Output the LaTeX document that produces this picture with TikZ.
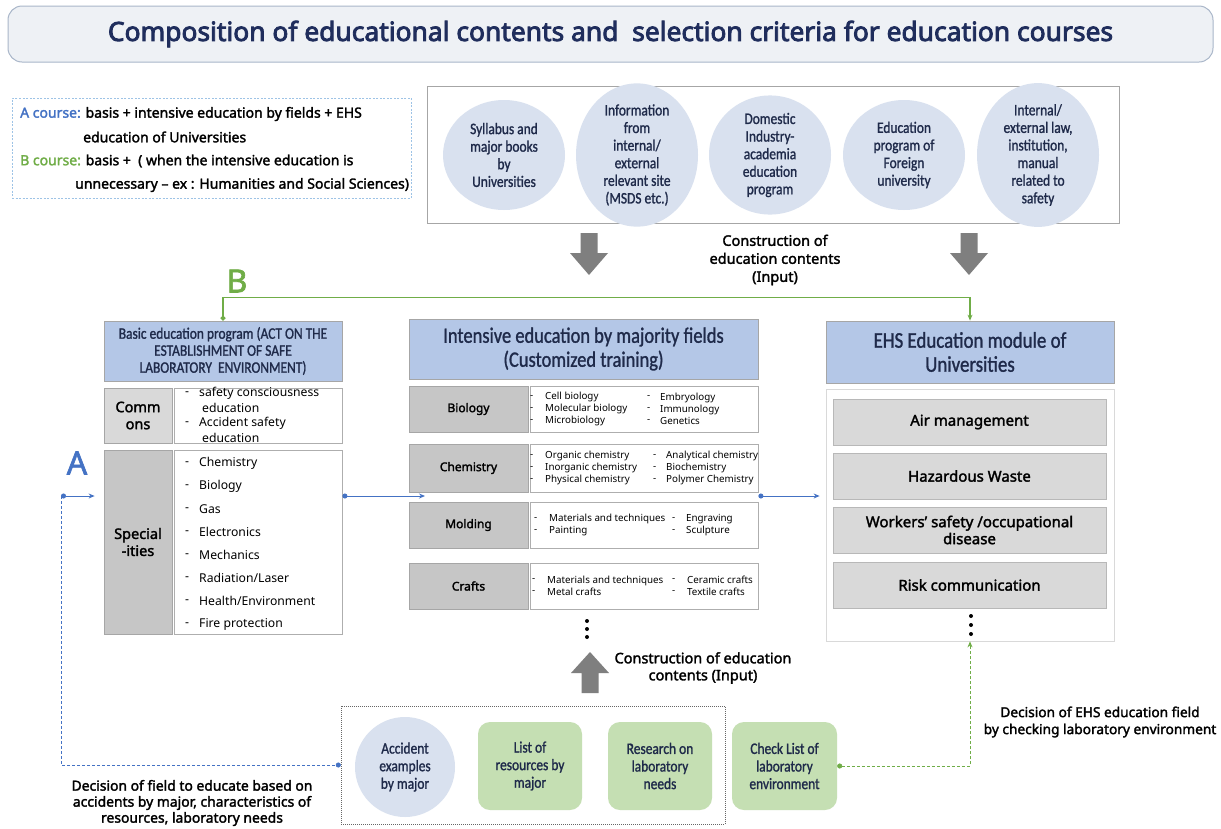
\documentclass[tikz,border=0pt]{standalone}
\usepackage{fontspec}
\setmainfont{Noto Sans}[BoldFont={Noto Sans},BoldFeatures={FakeBold=2}]
\newfontfamily\condfont{Carlito}[FakeStretch=0.84,FakeBold=1.2]
\newfontfamily\titfont{Noto Sans}[FakeBold=3.2]
\usetikzlibrary{shapes.geometric,arrows.meta}

% Colores
\definecolor{titnavy}{HTML}{1F2D5C}
\definecolor{txtnavy}{HTML}{1F2A4A}
\definecolor{titfill}{HTML}{EEF1F5}
\definecolor{titline}{HTML}{A9B6C9}
\definecolor{legline}{HTML}{9DC3E6}
\definecolor{hdrblue}{HTML}{B4C7E7}
\definecolor{circblue}{HTML}{D9E1EF}
\definecolor{ltgray}{HTML}{D9D9D9}
\definecolor{mdgray}{HTML}{C6C6C6}
\definecolor{lngray}{HTML}{A6A6A6}
\definecolor{boxgreen}{HTML}{C5DFB3}
\definecolor{acol}{HTML}{4472C4}
\definecolor{bcol}{HTML}{70AD47}
\definecolor{arrgray}{HTML}{7F7F7F}

\newcommand{\fsel}[2]{\fontsize{#1}{#2}\selectfont}

\begin{document}
\begin{tikzpicture}[x=1pt,y=-1pt,
    box/.style={draw=lngray, line width=0.8pt, inner sep=0pt},
    hdr/.style={box, fill=hdrblue, text=txtnavy, align=center},
    circ/.style={ellipse, fill=circblue, inner sep=0pt, minimum width=122pt, minimum height=110pt,
        text=txtnavy, align=center, font=\condfont\fsel{16}{17.6}},
    grn/.style={rounded corners=12pt, fill=boxgreen, inner sep=0pt, minimum width=104pt, minimum height=88pt,
        text=txtnavy, align=center, font=\condfont\fsel{16}{17.6}},
    lab/.style={box, align=center, font=\bfseries\fsel{12}{15}},
    itm/.style={anchor=west, inner sep=0pt, font=\fsel{12.2}{15}},
    mitm/.style={anchor=west, inner sep=0pt, align=left, font=\fsel{9.8}{12}},
    txt/.style={inner sep=0pt, align=center, font=\bfseries\fsel{14}{16.5}},
    dtip/.style={{Circle[length=5pt]}-{Stealth[length=6pt,width=5pt]}}]

    \useasboundingbox (0,0) rectangle (1221,828);
    \fill[white] (0,0) rectangle (1221,828);

    % Titulo
    \node[draw=titline, line width=1pt, fill=titfill, rounded corners=14pt, minimum width=1205pt,
        minimum height=56pt, text=titnavy, font=\titfont\fsel{26.4}{30}] (title) at (610.5,34)
        {Composition of educational contents and\ \ selection criteria for education courses};

    % Leyenda de cursos
    \node[draw=legline, dash pattern=on 2pt off 1.5pt, minimum width=399pt, minimum height=100pt] (leg) at (211.5,148) {};
    \node[itm, font=\bfseries\fsel{14}{16}] (legA) at (20,114) {\textcolor{acol}{A course:} basis + intensive education by fields + EHS};
    \node[itm, font=\bfseries\fsel{14}{16}] (legA2) at (83,137) {education of Universities};
    \node[itm, font=\bfseries\fsel{14}{16}] (legB) at (20,161) {\textcolor{bcol}{B course:} basis +\ \ ( when the intensive education is};
    \node[itm, font=\bfseries\fsel{14}{16}] (legB2) at (75,185) {unnecessary -- ex : Humanities and Social Sciences)};

    % Fuentes de contenidos
    \node[box, minimum width=692pt, minimum height=137pt] (src) at (773,154.5) {};
    \node[circ] (src1) at (504,155) {Syllabus and\\major books\\by\\Universities};
    \node[circ] (src2) at (637,155) {Information\\from\\internal/\\external\\relevant site\\(MSDS etc.)};
    \node[circ] (src3) at (770,155) {Domestic\\Industry-\\academia\\education\\program};
    \node[circ] (src4) at (904,155) {Education\\program of\\Foreign\\university};
    \node[circ] (src5) at (1038,155) {Internal/\\external law,\\institution,\\manual\\related to\\safety};

    % Flechas grises
    \foreach \x in {589,969}
        \fill[arrgray] (\x-8.5,233) -- (\x+8.5,233) -- (\x+8.5,253) -- (\x+19,253) -- (\x,275)
            -- (\x-19,253) -- (\x-8.5,253) -- cycle;
    \fill[arrgray] (590,652) -- (609,673) -- (598.5,673) -- (598.5,693) -- (581.5,693) -- (581.5,673)
        -- (571,673) -- cycle;
    \node[txt, font=\bfseries\fsel{14.5}{18}] (cin1) at (775,260) {Construction of\\education contents\\(Input)};
    \node[txt, font=\bfseries\fsel{14.5}{17}] (cin2) at (703,668) {Construction of education\\contents (Input)};

    % Programa basico
    \node[hdr, minimum width=238pt, minimum height=60pt, font=\condfont\fsel{16}{17}] (hbasic) at (223,351)
        {Basic education program (ACT ON THE\\ESTABLISHMENT OF SAFE\\LABORATORY\ \ ENVIRONMENT)};
    \node[lab, fill=ltgray, minimum width=68pt, minimum height=55pt, font=\bfseries\fsel{14.5}{17}] (lcom) at (138,415.5) {Comm\\ons};
    \node[box, draw=ltgray!80!black, minimum width=168pt, minimum height=55pt] (ccom) at (258,415.5) {};
    \node[lab, fill=mdgray, minimum width=68pt, minimum height=184pt, font=\bfseries\fsel{14.5}{17}] (lspec) at (138,542) {Special\\-ities};
    \node[box, draw=ltgray!80!black, minimum width=168pt, minimum height=184pt] (cspec) at (258,542) {};
    \node[itm] (cmd1) at (185,394) {-};
    \node[itm] (cm1) at (199,393) {safety consciousness};
    \node[itm] (cm2) at (202,408) {education};
    \node[itm] (cmd2) at (185,424) {-};
    \node[itm] (cm3) at (199,423) {Accident safety};
    \node[itm] (cm4) at (202,438) {education};
    \foreach \t [count=\i from 0] in {Chemistry,Biology,Gas,Electronics,Mechanics,Radiation/Laser,Health/Environment,Fire protection} {
        \node[itm] (spd\i) at (185,464+23*\i) {-};
        \node[itm] (sp\i) at (199,463+23*\i) {\t};
    }

    % Educacion intensiva
    \node[hdr, minimum width=349pt, minimum height=60pt, font=\condfont\fsel{22}{24}] (hint) at (583.5,349)
        {Intensive education by majority fields\\(Customized training)};
    \node[lab, fill=mdgray, minimum width=119pt, minimum height=46pt] (lbio) at (468.5,409) {Biology};
    \node[box, draw=ltgray!80!black, minimum width=228pt, minimum height=46pt] (cbio) at (644,409) {};
    \node[lab, fill=mdgray, minimum width=119pt, minimum height=48pt] (lchem) at (468.5,468) {Chemistry};
    \node[box, draw=ltgray!80!black, minimum width=228pt, minimum height=48pt] (cchem) at (644,468) {};
    \node[lab, fill=mdgray, minimum width=119pt, minimum height=46pt] (lmold) at (468.5,525) {Molding};
    \node[box, draw=ltgray!80!black, minimum width=228pt, minimum height=46pt] (cmold) at (644,525) {};
    \node[lab, fill=mdgray, minimum width=119pt, minimum height=46pt] (lcraft) at (468.5,586) {Crafts};
    \node[box, draw=ltgray!80!black, minimum width=228pt, minimum height=46pt] (ccraft) at (644,586) {};

    \node[mitm] (biod1) at (530,409) {-\\-\\-};
    \node[mitm] (bio1) at (545,409) {Cell biology\\Molecular biology\\Microbiology};
    \node[mitm] (biod2) at (647,409) {-\\-\\-};
    \node[mitm] (bio2) at (660,409) {Embryology\\Immunology\\Genetics};
    \node[mitm] (chemd1) at (530,468) {-\\-\\-};
    \node[mitm] (chem1) at (545,468) {Organic chemistry\\Inorganic chemistry\\Physical chemistry};
    \node[mitm] (chemd2) at (653,468) {-\\-\\-};
    \node[mitm] (chem2) at (666,468) {Analytical chemistry\\Biochemistry\\Polymer Chemistry};
    \node[mitm] (moldd1) at (534,525) {-\\-};
    \node[mitm] (mold1) at (549,525) {Materials and techniques\\Painting};
    \node[mitm] (moldd2) at (672,525) {-\\-};
    \node[mitm] (mold2) at (686,525) {Engraving\\Sculpture};
    \node[mitm] (craftd1) at (532,586) {-\\-};
    \node[mitm] (craft1) at (547,586) {Materials and techniques\\Metal crafts};
    \node[mitm] (craftd2) at (672,586) {-\\-};
    \node[mitm] (craft2) at (687,586) {Ceramic crafts\\Textile crafts};
    \foreach \y in {621,629,637}
        \fill (587,\y) circle (2pt);

    % Modulo EHS
    \node[hdr, minimum width=288pt, minimum height=62pt, font=\condfont\fsel{22.5}{24}] (hehs) at (970,352)
        {EHS Education module of\\Universities};
    \node[box, draw=ltgray, minimum width=288pt, minimum height=252pt] (behs) at (970,515) {};
    \foreach \t/\y [count=\i] in {Air management/422,Hazardous Waste/476,{Workers’ safety /occupational\\disease}/530,Risk communication/585}
        \node[lab, fill=ltgray, draw=lngray!80, minimum width=273pt, minimum height=46pt,
            font=\bfseries\fsel{15}{17}] (ehs\i) at (969.5,\y) {\t};
    \foreach \y in {616,625,634}
        \fill (971,\y) circle (2pt);

    % Entradas inferiores
    \node[draw=black!60, dash pattern=on 1pt off 1pt, minimum width=384pt, minimum height=118pt] (binput) at (533,765) {};
    \node[circ, circle, minimum size=100pt] (acc) at (405,767) {Accident\\examples\\by major};
    \node[grn] (lres) at (530,766) {List of\\resources by\\major};
    \node[grn] (lneed) at (660,766) {Research on\\laboratory\\needs};
    \node[grn, minimum width=105pt] (lchk) at (784.5,766) {Check List of\\laboratory\\environment};
    \node[txt, font=\bfseries\fsel{13.9}{16}] (decA) at (192,803)
        {Decision of field to educate based on\\accidents by major, characteristics of\\resources, laboratory needs};
    \node[txt, font=\bfseries\fsel{13.7}{17}] (decE) at (1100,722)
        {Decision of EHS education field\\by checking laboratory environment};

    % Rutas A y B
    \node[font=\bfseries\fsel{32}{34}, text=acol] (labA) at (77,463) {A};
    \node[font=\bfseries\fsel{32}{34}, text=bcol] (labB) at (237,281) {B};
    \coordinate (pA) at (61,496);
    \coordinate (pB) at (425,496);
    \draw[acol, line width=1pt, dtip, shorten >=9pt] (pA) -- (lspec.west |- pA);
    \draw[acol, line width=0.8pt, dash pattern=on 3pt off 2pt, -{Circle[length=5pt]}] (pA) |- (binput.west);
    \draw[acol, line width=1pt, dtip] (cspec.east |- pB) -- (pB);
    \draw[acol, line width=1pt, dtip, shorten >=6pt] (cchem.east |- pB) -- (behs.west |- pB);
    \draw[bcol, line width=1.2pt, dtip] (hbasic.north) -- ++(0,-23) -| (hehs.north);
    \draw[bcol, line width=0.8pt, dash pattern=on 3pt off 2pt, dtip] (lchk.east) -| (behs.south);
\end{tikzpicture}
\end{document}
